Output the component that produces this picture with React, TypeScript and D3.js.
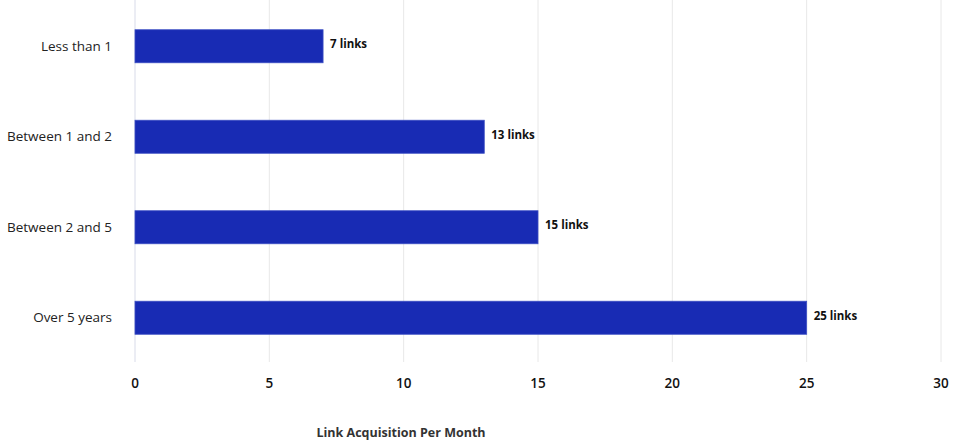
import { useEffect, useRef } from "react";
import * as d3 from "d3";

const categories = ["Less than 1", "Between 1 and 2", "Between 2 and 5", "Over 5 years"];
const links = [7, 13, 15, 25];
const xTicks = [0, 5, 10, 15, 20, 25, 30];
const axisTitle = "Link Acquisition Per Month";

export default function App() {
  const svgRef = useRef<SVGSVGElement>(null);

  useEffect(() => {
    const width = 958;
    const height = 447;
    const font = "'Open Sans', sans-serif";

    const svg = d3.select(svgRef.current).attr("width", width).attr("height", height);
    svg.selectAll("*").remove();

    const x = d3.scaleLinear().domain([0, 30]).range([135, 941]);
    const y = d3
      .scaleBand()
      .domain(categories)
      .range([1, 363])
      .paddingInner(0.635)
      .paddingOuter(0.3175);

    // grid lines
    svg
      .append("g")
      .selectAll("line")
      .data(xTicks)
      .enter()
      .append("line")
      .attr("x1", (d) => x(d))
      .attr("x2", (d) => x(d))
      .attr("y1", 0)
      .attr("y2", 362)
      .attr("stroke", (d) => (d === 0 ? "#d8dbe9" : "#e8e8e8"))
      .attr("stroke-width", 1);

    // bars
    svg
      .append("g")
      .selectAll("rect")
      .data(categories)
      .enter()
      .append("rect")
      .attr("x", x(0))
      .attr("y", (d) => y(d))
      .attr("width", (d, i) => x(links[i]) - x(0))
      .attr("height", y.bandwidth())
      .attr("fill", "#182bb4")
      .attr("stroke", "#3c4fc4")
      .attr("stroke-width", 0.8);

    // value labels
    svg
      .append("g")
      .selectAll("text")
      .data(categories)
      .enter()
      .append("text")
      .attr("x", (d, i) => x(links[i]) + 7)
      .attr("y", (d) => y(d) + y.bandwidth() / 2 - 2)
      .attr("dy", "0.35em")
      .attr("font-family", font)
      .attr("font-size", 11.5)
      .attr("font-weight", 700)
      .attr("fill", "#111")
      .text((d, i) => `${links[i]} links`);

    // category labels
    svg
      .append("g")
      .selectAll("text")
      .data(categories)
      .enter()
      .append("text")
      .attr("x", 112)
      .attr("y", (d) => y(d) + y.bandwidth() / 2)
      .attr("dy", "0.35em")
      .attr("text-anchor", "end")
      .attr("font-family", font)
      .attr("font-size", 13.5)
      .attr("fill", "#222")
      .text((d) => d);

    // x tick labels
    svg
      .append("g")
      .selectAll("text")
      .data(xTicks)
      .enter()
      .append("text")
      .attr("x", (d) => x(d))
      .attr("y", 383)
      .attr("dy", "0.35em")
      .attr("text-anchor", "middle")
      .attr("font-family", font)
      .attr("font-size", 13.5)
      .attr("font-weight", 600)
      .attr("fill", "#111")
      .text((d) => d);

    svg
      .append("text")
      .attr("x", 401)
      .attr("y", 433)
      .attr("dy", "0.35em")
      .attr("text-anchor", "middle")
      .attr("font-family", font)
      .attr("font-size", 12.5)
      .attr("font-weight", 700)
      .attr("fill", "#333")
      .text(axisTitle);
  }, []);

  return <svg ref={svgRef} style={{ position: "absolute", left: 0, top: 0 }}></svg>;
}
